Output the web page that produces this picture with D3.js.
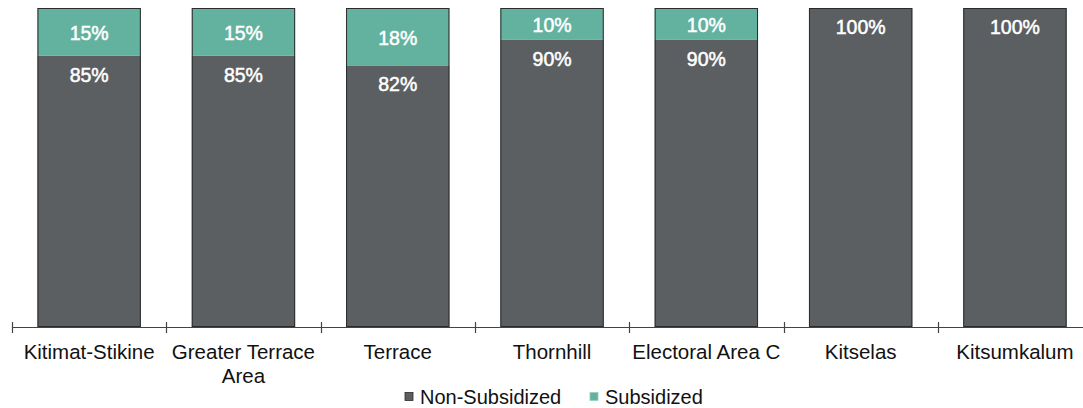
<!DOCTYPE html>
<html>
<head>
<meta charset="utf-8">
<script src="https://cdn.jsdelivr.net/npm/d3@7"></script>
<style>
  html, body { margin: 0; padding: 0; background: #fff; }
  svg { display: block; font-family: "Liberation Sans", Arial, sans-serif; }
</style>
</head>
<body>
<svg id="chart" width="1083" height="408"></svg>
<script>
// Share of households by subsidy status, per community
const categories = ["Kitimat-Stikine", "Greater Terrace Area", "Terrace", "Thornhill", "Electoral Area C", "Kitselas", "Kitsumkalum"];
const nonSubsidized = [85, 85, 82, 90, 90, 100, 100];
const subsidized = [15, 15, 18, 10, 10, 0, 0];
const seriesNames = ["Non-Subsidized", "Subsidized"];
const seriesColors = ["#5b5f62", "#63b29f"];

const svg = d3.select("#chart");
const margin = { left: 12, top: 8, bottom: 81 };
const step = 154.3;
const plotW = step * categories.length;
const plotBottom = 408 - margin.bottom;

const x = d3.scaleBand().domain(categories).range([margin.left, margin.left + plotW]).paddingInner(0.33).paddingOuter(0.165);
const y = d3.scaleLinear().domain([0, 100]).range([plotBottom, margin.top]);

const rows = categories.map((c, i) => ({ cat: c, "Non-Subsidized": nonSubsidized[i], "Subsidized": subsidized[i] }));
const stacked = d3.stack().keys(seriesNames)(rows);

const g = svg.append("g");
stacked.forEach((layer, si) => {
  g.selectAll(null).data(layer.filter(d => d[1] > d[0])).enter().append("rect")
    .attr("x", d => x(d.data.cat))
    .attr("width", x.bandwidth())
    .attr("y", d => y(d[1]))
    .attr("height", d => y(d[0]) - y(d[1]))
    .attr("fill", seriesColors[si]);
});

// outline around each full bar
g.selectAll(null).data(categories).enter().append("rect")
  .attr("x", d => x(d) + 0.5)
  .attr("width", x.bandwidth() - 1)
  .attr("y", y(100) + 0.5)
  .attr("height", y(0) - y(100) - 1)
  .attr("fill", "none")
  .attr("stroke", "#2b2b2b")
  .attr("stroke-width", 1);

// value labels
stacked.forEach((layer, si) => {
  g.selectAll(null).data(layer.filter(d => d[1] > d[0])).enter().append("text")
    .attr("x", d => x(d.data.cat) + x.bandwidth() / 2)
    .attr("y", d => si === 1 ? (y(d[1]) + y(d[0])) / 2 + 1 : y(d[1]) + 19)
    .attr("dy", "0.36em")
    .attr("text-anchor", "middle")
    .attr("fill", "#fff")
    .attr("stroke", "#fff")
    .attr("stroke-width", 0.5)
    .attr("font-size", 19.5)
    .text(d => (d[1] - d[0]) + "%");
});

// category axis
const axis = svg.append("g").attr("transform", `translate(0,${plotBottom})`);
axis.append("line").attr("x1", margin.left).attr("x2", margin.left + plotW)
  .attr("y1", 0.5).attr("y2", 0.5).attr("stroke", "#444").attr("stroke-width", 1.2);
d3.range(categories.length + 1).forEach(i => {
  const tx = Math.round(margin.left + i * step) + 0.5;
  axis.append("line").attr("x1", tx).attr("x2", tx).attr("y1", -5).attr("y2", 6)
    .attr("stroke", "#444").attr("stroke-width", 1.2);
});

const wrapLabels = { "Greater Terrace Area": ["Greater Terrace", "Area"] };
categories.forEach(c => {
  const lines = wrapLabels[c] || [c];
  const t = axis.append("text")
    .attr("x", x(c) + x.bandwidth() / 2)
    .attr("y", 32)
    .attr("text-anchor", "middle")
    .attr("fill", "#111")
    .attr("font-size", 20.5);
  lines.forEach((l, i) => {
    t.append("tspan").attr("x", x(c) + x.bandwidth() / 2).attr("dy", i === 0 ? 0 : 24).text(l);
  });
});

// legend
const legend = svg.append("g").attr("transform", "translate(405,397)");
const legendX = [0, 185];
seriesNames.forEach((n, i) => {
  const lg = legend.append("g").attr("transform", `translate(${legendX[i]},0)`);
  lg.append("rect").attr("x", 0).attr("y", -4.5).attr("width", 8).attr("height", 8)
    .attr("fill", seriesColors[i]).attr("stroke", i === 0 ? "#2b2b2b" : "#8fcfbf").attr("stroke-width", 0.8);
  lg.append("text").attr("x", 15).attr("y", 0).attr("dy", "0.36em")
    .attr("fill", "#111").attr("font-size", 20).text(n);
});
</script>
</body>
</html>
